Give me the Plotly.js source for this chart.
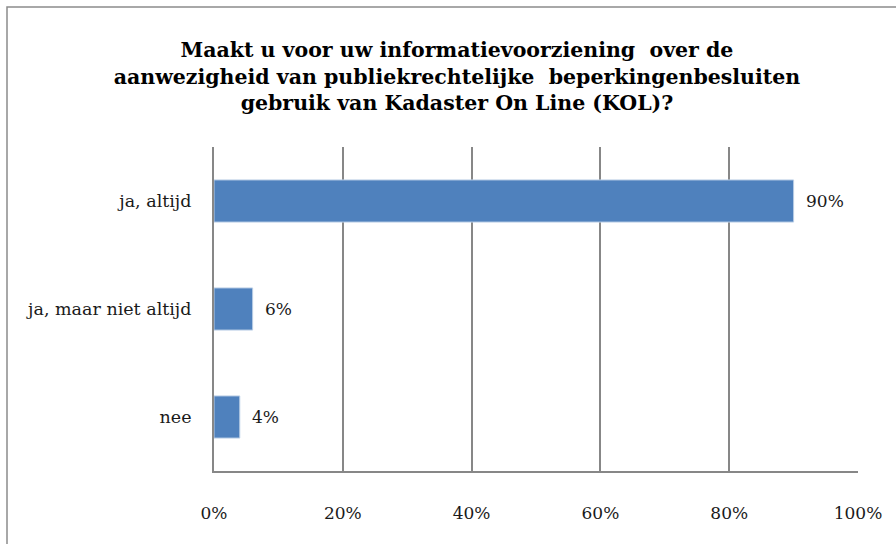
<!DOCTYPE html>
<html>
<head>
<meta charset="utf-8">
<script src="https://cdn.plot.ly/plotly-3.0.1.min.js"></script>
<style>
  html, body { margin: 0; padding: 0; background: #fff; }
  #chart { width: 896px; height: 544px; }
</style>
</head>
<body>
<div id="chart"></div>
<script>
var categories = ['ja, altijd', 'ja, maar niet altijd', 'nee'];
var values = [90, 6, 4];
var xTicks = [0, 20, 40, 60, 80, 100];
var xTickLabels = ['0%', '20%', '40%', '60%', '80%', '100%'];

var titleText = 'Maakt u voor uw informatievoorziening \u00a0over de<br>' +
  'aanwezigheid van publiekrechtelijke \u00a0beperkingenbesluiten<br>' +
  'gebruik van Kadaster On Line (KOL)?';

var font = 'DejaVu Serif, Liberation Serif, serif';
var gridColor = '#878787';
var textColor = '#1a1a1a';

var trace = {
  type: 'bar',
  orientation: 'h',
  x: values,
  y: categories,
  marker: {color: '#4f81bd', line: {color: '#b9cde5', width: 1}},
  hoverinfo: 'none'
};

// value labels to the right of each bar
var labels = values.map(function (v, i) {
  return {
    x: v, y: categories[i],
    xref: 'x', yref: 'y',
    text: v + '%',
    showarrow: false,
    xanchor: 'left',
    xshift: 10,
    font: {family: font, size: 17, color: textColor}
  };
});

var layout = {
  width: 896,
  height: 544,
  margin: {l: 214, r: 38, t: 147, b: 73},
  paper_bgcolor: '#ffffff',
  plot_bgcolor: '#ffffff',
  showlegend: false,
  bargap: 0.61,
  font: {family: font, size: 17, color: textColor},
  title: {
    text: titleText,
    font: {family: font, size: 20.5, color: '#000', weight: 'bold'},
    x: 0.51,
    xanchor: 'center',
    y: 1 - 57 / 544,
    yanchor: 'middle'
  },
  xaxis: {
    range: [0, 100],
    tickvals: xTicks,
    ticktext: xTickLabels,
    showgrid: true,
    gridcolor: gridColor,
    gridwidth: 2,
    zeroline: false,
    showline: true,
    linecolor: gridColor,
    linewidth: 2,
    ticks: '',
    ticklabelstandoff: 26,
    tickfont: {family: font, size: 17, color: textColor},
    fixedrange: true
  },
  yaxis: {
    autorange: 'reversed',
    showgrid: false,
    zeroline: false,
    showline: true,
    linecolor: gridColor,
    linewidth: 2,
    ticks: '',
    ticklabelstandoff: 17,
    tickfont: {family: font, size: 17.5, color: textColor},
    fixedrange: true
  },
  annotations: labels,
  shapes: [{
    type: 'rect',
    xref: 'paper', yref: 'paper',
    x0: (7 - 214) / 644, x1: 1.2,
    y0: -0.4, y1: 1 + (147 - 7) / 324,
    line: {color: '#8c8c8c', width: 1.5},
    layer: 'below'
  }]
};

Plotly.newPlot('chart', [trace], layout, {displayModeBar: false, staticPlot: true});
</script>
</body>
</html>
